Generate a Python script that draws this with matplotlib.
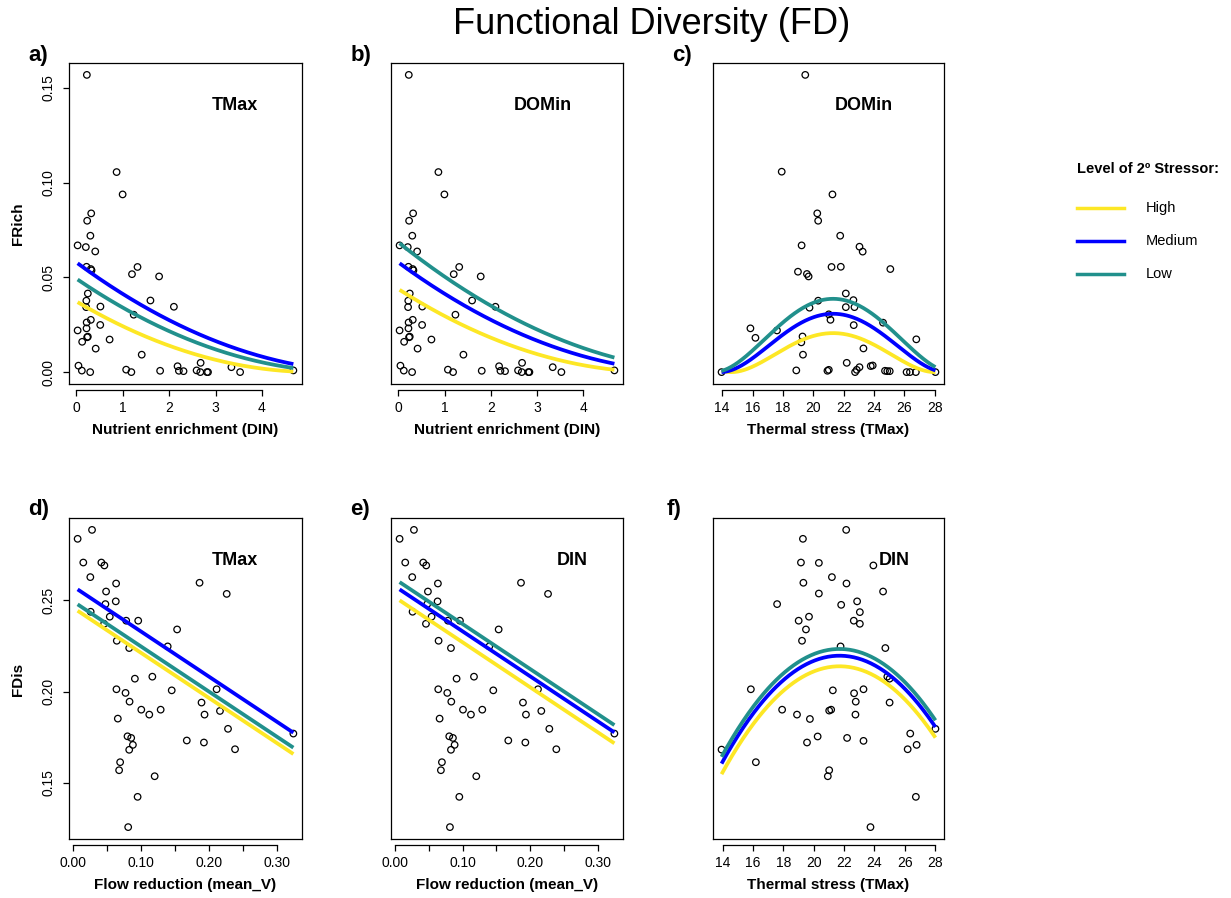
import numpy as np
import matplotlib
matplotlib.use("Agg")
import matplotlib.pyplot as plt
from matplotlib.lines import Line2D

plt.rcParams["font.family"] = ["Liberation Sans", "DejaVu Sans"]

W, H = 1231, 898

levels = ["High", "Medium", "Low"]
level_colors = ["#FDE725", "#0000FF", "#21908C"]

# panels a, b: FRich vs nutrient enrichment (DIN)
din = [0.224, 0.866, 0.996, 0.318, 0.231, 0.300, 0.025, 0.202, 0.405, 0.217,
       0.310, 0.325, 1.317, 1.198, 1.783, 0.245, 0.213, 1.596, 0.209, 0.517,
       2.102, 1.235, 0.310, 0.220, 0.513, 0.217, 0.025, 0.245, 0.230, 0.123,
       0.715, 0.415, 1.408, 0.043, 0.116, 0.296, 1.072, 1.184, 1.805, 2.181,
       2.210, 2.310, 2.592, 2.679, 2.672, 2.816, 2.838, 3.343, 3.531, 4.680]
frich_din = [0.1569, 0.1056, 0.0938, 0.0838, 0.0799, 0.0720, 0.0669, 0.0660, 0.0637, 0.0556,
             0.0544, 0.0537, 0.0555, 0.0517, 0.0505, 0.0415, 0.0377, 0.0378, 0.0343, 0.0346,
             0.0345, 0.0303, 0.0276, 0.0262, 0.0249, 0.0231, 0.0220, 0.0187, 0.0184, 0.0160,
             0.0172, 0.0124, 0.0092, 0.0034, 0.0008, 0.0000, 0.0013, 0.0000, 0.0007, 0.0031,
             0.0007, 0.0005, 0.0009, 0.0049, 0.0000, 0.0000, 0.0000, 0.0026, 0.0000, 0.0009]

# panel c: FRich vs thermal stress (TMax)
tmax_rich = [19.47, 17.92, 21.26, 20.26, 20.32, 21.77, 19.23, 23.04, 23.25, 21.20,
             21.81, 25.07, 18.99, 19.58, 19.69, 22.14, 22.64, 20.32, 22.14, 22.71,
             19.75, 21.02, 21.13, 24.59, 22.66, 15.86, 17.61, 16.19, 19.29, 19.21,
             26.78, 23.30, 19.32, 22.20, 18.88, 20.93, 21.02, 22.75, 22.86, 23.04,
             23.78, 23.91, 24.72, 24.87, 25.03, 26.14, 26.36, 26.75, 13.96, 28.04]
frich_tmax = [0.1569, 0.1058, 0.0938, 0.0838, 0.0799, 0.0720, 0.0669, 0.0662, 0.0636, 0.0555,
              0.0556, 0.0544, 0.0530, 0.0518, 0.0505, 0.0415, 0.0380, 0.0377, 0.0343, 0.0343,
              0.0340, 0.0305, 0.0276, 0.0261, 0.0248, 0.0231, 0.0220, 0.0181, 0.0188, 0.0157,
              0.0173, 0.0125, 0.0092, 0.0049, 0.0009, 0.0007, 0.0012, 0.0000, 0.0012, 0.0026,
              0.0032, 0.0035, 0.0007, 0.0005, 0.0005, 0.0000, 0.0000, 0.0000, 0.0000, 0.0000]

# panels d, e: FDis vs flow reduction (mean_V)
mean_v = [0.0074, 0.0285, 0.0157, 0.0422, 0.0466, 0.0260, 0.0638, 0.0491, 0.0633, 0.0481,
          0.0265, 0.0545, 0.0786, 0.0962, 0.0462, 0.0648, 0.0830, 0.1861, 0.2259, 0.1532,
          0.1394, 0.0913, 0.1169, 0.0643, 0.0776, 0.0835, 0.1007, 0.1124, 0.1291, 0.1453,
          0.2111, 0.1890, 0.1934, 0.2160, 0.2278, 0.0663, 0.0805, 0.0859, 0.0884, 0.0830,
          0.1674, 0.1925, 0.2381, 0.3236, 0.0697, 0.0682, 0.1203, 0.0953, 0.0815]
fdis_v = [0.2838, 0.2887, 0.2708, 0.2708, 0.2692, 0.2628, 0.2593, 0.2549, 0.2495, 0.2480,
          0.2438, 0.2411, 0.2389, 0.2389, 0.2372, 0.2279, 0.2239, 0.2597, 0.2536, 0.2341,
          0.2248, 0.2071, 0.2082, 0.2013, 0.1993, 0.1945, 0.1901, 0.1874, 0.1901, 0.2007,
          0.2013, 0.1940, 0.1874, 0.1894, 0.1796, 0.1852, 0.1755, 0.1746, 0.1708, 0.1681,
          0.1732, 0.1721, 0.1684, 0.1770, 0.1613, 0.1569, 0.1536, 0.1423, 0.1257]

# panel f: FDis vs thermal stress (TMax)
tmax_dis = [22.14, 19.29, 19.16, 20.34, 23.93, 21.20, 19.32, 22.16, 20.34, 24.57,
            17.59, 22.86, 21.81, 23.04, 19.69, 19.01, 22.64, 23.04, 19.49, 19.23,
            21.77, 24.72, 24.85, 25.00, 15.86, 21.26, 23.28, 22.66, 22.77, 25.00,
            17.92, 21.02, 21.15, 18.90, 19.75, 22.75, 28.02, 20.26, 22.20, 19.56,
            23.28, 26.36, 26.78, 26.19, 13.93, 16.19, 21.02, 20.93, 26.73, 23.74]
fdis_tmax = [0.2887, 0.2838, 0.2708, 0.2706, 0.2692, 0.2628, 0.2597, 0.2593, 0.2538, 0.2549,
             0.2480, 0.2495, 0.2476, 0.2436, 0.2411, 0.2389, 0.2389, 0.2372, 0.2341, 0.2279,
             0.2248, 0.2239, 0.2082, 0.2071, 0.2013, 0.2007, 0.2013, 0.1991, 0.1945, 0.1940,
             0.1901, 0.1896, 0.1901, 0.1874, 0.1850, 0.1874, 0.1796, 0.1754, 0.1746, 0.1721,
             0.1730, 0.1770, 0.1708, 0.1684, 0.1682, 0.1613, 0.1569, 0.1536, 0.1423, 0.1257]

# model fits, level order High, Medium, Low
# a, b: sqrt(FRich) = intercept + slope * DIN
a_intercepts = [0.1931, 0.2406, 0.2220]
a_slope = -0.0375
b_intercepts = [0.2093, 0.2406, 0.2617]
b_slope = -0.0372
# c: sqrt(FRich) = peak - curv * (TMax - opt)^2
c_peaks = [0.1435, 0.1755, 0.1967]
c_opt, c_curv = 21.3, 0.0032
# d, e: FDis = intercept + slope * mean_V
d_intercepts = [0.2462, 0.2579, 0.2497]
d_slope = -0.2485
e_intercepts = [0.2519, 0.2579, 0.2619]
e_slope = -0.248
# f: FDis = peak - curv * (TMax - opt)^2
f_peaks = [0.2139, 0.2197, 0.2234]
f_opt, f_curv = 21.7, 0.00098


def rlim(v):
    lo, hi = min(v), max(v)
    pad = (hi - lo) * 0.04
    return lo - pad, hi + pad


def px_axes(left, top, width, height):
    return fig.add_axes([left / W, 1 - (top + height) / H, width / W, height / H])


def panel(ax, x, y, xs, curves, xticks, xlabels, xtitle, stressor, spos,
          yticks=None, ylabels=None):
    ax.scatter(x, y, s=22, facecolors="none", edgecolors="black", linewidths=0.9, zorder=2)
    for cy, col in zip(curves, level_colors):
        ax.plot(xs, cy, color=col, lw=2.7, solid_capstyle="butt", zorder=3)
    ax.set_xlim(rlim(x))
    ax.set_ylim(rlim(y))
    ax.set_xticks(xticks)
    ax.set_xticklabels(xlabels, fontsize=10)
    ax.spines["bottom"].set_position(("outward", 4))
    ax.spines["bottom"].set_bounds(xticks[0], xticks[-1])
    ax.axhline(ax.get_ylim()[0], color="black", lw=0.9, clip_on=False, zorder=4)
    for s in ax.spines.values():
        s.set_linewidth(0.9)
    ax.tick_params(axis="x", length=4.5, width=0.9, pad=4)
    if yticks is None:
        ax.set_yticks([])
    else:
        ax.set_yticks(yticks)
        ax.set_yticklabels(ylabels, fontsize=10, rotation=90, va="center")
        ax.tick_params(axis="y", length=4.5, width=0.9, pad=5)
    ax.text(0.5, -0.143, xtitle, transform=ax.transAxes, ha="center", va="center",
            fontsize=11, fontweight="bold")
    ax.text(spos[0], spos[1], stressor, transform=ax.transAxes, ha="center", va="center",
            fontsize=13, fontweight="bold")


fig = plt.figure(figsize=(W / 100, H / 100), dpi=100)

lefts = [69, 391, 713]
widths = [233, 232, 231]
tops = [63, 518]
ph = 321

xs_din = np.linspace(min(din), max(din), 200)
xs_tr = np.linspace(min(tmax_rich), max(tmax_rich), 200)
xs_v = np.linspace(min(mean_v), max(mean_v), 200)
xs_td = np.linspace(min(tmax_dis), max(tmax_dis), 200)

din_ticks = [0, 1, 2, 3, 4]
t_ticks = list(range(14, 29, 2))
v_ticks = [0.0, 0.05, 0.10, 0.15, 0.20, 0.25, 0.30]
v_labels = ["0.00", "", "0.10", "", "0.20", "", "0.30"]

ax = px_axes(lefts[0], tops[0], widths[0], ph)
panel(ax, din, frich_din, xs_din, [(b0 + a_slope * xs_din) ** 2 for b0 in a_intercepts],
      din_ticks, [str(t) for t in din_ticks], "Nutrient enrichment (DIN)", "TMax", (0.712, 0.869),
      [0, 0.05, 0.10, 0.15], ["0.00", "0.05", "0.10", "0.15"])

ax = px_axes(lefts[1], tops[0], widths[1], ph)
panel(ax, din, frich_din, xs_din, [(b0 + b_slope * xs_din) ** 2 for b0 in b_intercepts],
      din_ticks, [str(t) for t in din_ticks], "Nutrient enrichment (DIN)", "DOMin", (0.655, 0.869))

ax = px_axes(lefts[2], tops[0], widths[2], ph)
panel(ax, tmax_rich, frich_tmax, xs_tr,
      [(p - c_curv * (xs_tr - c_opt) ** 2) ** 2 for p in c_peaks],
      t_ticks, [str(t) for t in t_ticks], "Thermal stress (TMax)", "DOMin", (0.654, 0.869))

ax = px_axes(lefts[0], tops[1], widths[0], ph)
panel(ax, mean_v, fdis_v, xs_v, [b0 + d_slope * xs_v for b0 in d_intercepts],
      v_ticks, v_labels, "Flow reduction (mean_V)", "TMax", (0.712, 0.869),
      [0.15, 0.20, 0.25], ["0.15", "0.20", "0.25"])

ax = px_axes(lefts[1], tops[1], widths[1], ph)
panel(ax, mean_v, fdis_v, xs_v, [b0 + e_slope * xs_v for b0 in e_intercepts],
      v_ticks, v_labels, "Flow reduction (mean_V)", "DIN", (0.780, 0.869))

ax = px_axes(lefts[2], tops[1], widths[2], ph)
panel(ax, tmax_dis, fdis_tmax, xs_td, [p - f_curv * (xs_td - f_opt) ** 2 for p in f_peaks],
      t_ticks, [str(t) for t in t_ticks], "Thermal stress (TMax)", "DIN", (0.784, 0.869))

# y titles
fig.text(18 / W, 1 - 224 / H, "FRich", rotation=90, ha="center", va="center",
         fontsize=11, fontweight="bold")
fig.text(18 / W, 1 - 679 / H, "FDis", rotation=90, ha="center", va="center",
         fontsize=11, fontweight="bold")

# panel letters
for lab, (lx, ly) in zip("abcdef", [(28, 55), (351, 55), (672, 55), (28, 510), (350, 510), (667, 510)]):
    fig.text(lx / W, 1 - ly / H, lab + ")", ha="left", va="center", fontsize=16, fontweight="bold")

fig.text(652 / W, 1 - 25 / H, "Functional Diversity (FD)", ha="center", va="center", fontsize=26)

# legend
fig.text(1077 / W, 1 - 169 / H, "Level of 2º Stressor:", ha="left", va="center",
         fontsize=10.5, fontweight="bold")
for i, (lab, col) in enumerate(zip(levels, level_colors)):
    yy = 1 - (208 + 33 * i) / H
    fig.add_artist(Line2D([1077 / W, 1124 / W], [yy, yy], color=col, lw=2.5,
                          transform=fig.transFigure))
    fig.text(1146 / W, yy, lab, ha="left", va="center", fontsize=10.5)

fig.savefig("out.png", dpi=100)
